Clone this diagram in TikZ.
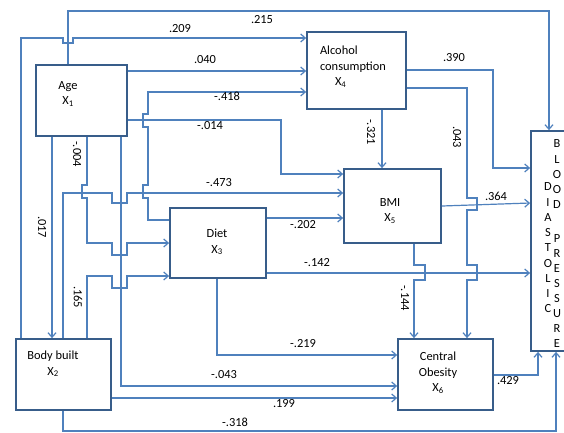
\documentclass[tikz,border=0pt]{standalone}
\usepackage{fontspec}
\setmainfont{Carlito}
\usetikzlibrary{arrows.meta}
\definecolor{lc}{RGB}{79,129,189}
\definecolor{bc}{RGB}{56,93,138}
\begin{document}
\begin{tikzpicture}[x=1pt,y=-1pt,
  box/.style={draw=bc, line width=1.8pt, fill=white, inner sep=0pt},
  conn/.style={draw=lc, line width=1.2pt, -{Straight Barb[length=4.5pt,width=8pt]}},
  lbl/.style={font=\fontsize{12.4}{15.5}\selectfont, inner sep=0pt},
  txt/.style={font=\fontsize{12.4}{15.5}\selectfont, inner sep=0pt, align=center}]
\useasboundingbox (0,0) rectangle (564,432);
\fill[white] (0,0) rectangle (564,432);
% boxes
\node[box, minimum width=91pt, minimum height=71pt] (age) at (81.5,100.5) {};
\node[box, minimum width=99pt, minimum height=77pt] (alc) at (356.5,70.5) {};
\node[box, minimum width=97pt, minimum height=74pt] (bmi) at (392.5,206) {};
\node[box, minimum width=96pt, minimum height=70pt] (diet) at (218,243) {};
\node[box, minimum width=95pt, minimum height=71pt] (body) at (63.5,374.5) {};
\node[box, minimum width=95pt, minimum height=71pt] (co) at (445.5,374.5) {};
\node[box, minimum width=39pt, minimum height=220pt] (bp) at (550.5,241) {};
% box texts
\node[txt] (ageT) at (68,94) {Age\\X\textsubscript{1}};
\node[txt, align=left] (alcT) at (353,67) {Alcohol\\consumption\\\hspace*{15pt}X\textsubscript{4}};
\node[txt] (bmiT) at (390,211) {BMI\\X\textsubscript{5}};
\node[txt] (dietT) at (217,242) {Diet\\X\textsubscript{3}};
\node[txt] (bodyT) at (53,364) {Body built\\X\textsubscript{2}};
\node[txt] (coT) at (438,373) {Central\\Obesity\\X\textsubscript{6}};
\foreach \c [count=\i from 0] in {B,L,O,O,D}
  \node[lbl] (bpa\i) at (557,{144+15.25*\i}) {\c};
\foreach \c [count=\i from 0] in {P,R,E,S,S,U,R,E}
  \node[lbl] (bpb\i) at (557,{239+14.86*\i}) {\c};
\foreach \c [count=\i from 0] in {D,I,A,S,T,O,L,I,C}
  \node[lbl] (bpc\i) at (548,{187+15.25*\i}) {\c};
% connectors
\draw[conn] (age.north -| 68,0) -- (68,11) -- (549,11) -- (bp.north -| 549,0);
\draw[conn] (body.north -| 21,0) -- (21,38) -- (63,38) -- (63,43) -- (73,43) -- (73,38) -- (alc.west |- 0,38);
\draw[conn] (age.east |- 0,71) -- (alc.west |- 0,71);
\draw[conn] (diet.west |- 0,220) -- (148,220) -- (148,198) -- (143,198) -- (143,185) -- (148,185) -- (148,127) -- (143,127) -- (143,114) -- (148,114) -- (148,92) -- (alc.west |- 0,92);
\draw[conn] (age.east |- 0,120) -- (281,120) -- (281,174) -- (bmi.west |- 0,174);
\draw[conn] (body.north -| 63,0) -- (63,193) -- (112,193) -- (112,203) -- (127,203) -- (127,193) -- (bmi.west |- 0,193);
\draw[conn] (age.south -| 87,0) -- (87,185) -- (82,185) -- (82,198) -- (87,198) -- (87,243) -- (112,243) -- (112,255) -- (127,255) -- (127,243) -- (diet.west |- 0,243);
\draw[conn] (body.north -| 87,0) -- (87,276) -- (112,276) -- (112,288) -- (127,288) -- (127,276) -- (diet.west |- 0,276);
\draw[conn] (age.south -| 52,0) -- (body.north -| 52,0);
\draw[conn] (age.south -| 121,0) -- (121,386) -- (co.west |- 0,386);
\draw[conn] (diet.south -| 217,0) -- (217,355) -- (co.west |- 0,355);
\draw[conn] (body.east |- 0,398) -- (co.west |- 0,398);
\draw[conn] (body.south -| 63,0) -- (63,431) -- (556,431) -- (bp.south -| 556,0);
\draw[conn] (alc.east |- 0,70) -- (493,70) -- (493,168) -- (bp.west |- 0,168);
\draw[conn] (alc.east |- 0,88) -- (467,88) -- (467,198) -- (477,198) -- (477,210) -- (467,210) -- (467,265) -- (477,265) -- (477,280) -- (467,280) -- (co.north -| 467,0);
\draw[conn] (alc.south -| 382,0) -- (bmi.north -| 382,0);
\draw[conn] (bmi.east |- 0,206) -- (bp.west |- 0,203);
\draw[conn] (bmi.south -| 414,0) -- (414,265) -- (425,265) -- (425,280) -- (414,280) -- (co.north -| 414,0);
\draw[conn] (diet.east |- 0,273) -- (bp.west |- 0,273);
\draw[conn] (diet.east |- 0,218) -- (bmi.west |- 0,218);
\draw[conn] (co.east |- 0,375) -- (538,375) -- (bp.south -| 538,0);
% coefficient labels
\node[lbl] (l215) at (262,20) {.215};
\node[lbl] (l209) at (180,29) {.209};
\node[lbl] (l040) at (205,60) {.040};
\node[lbl] (l418) at (227,96) {-.418};
\node[lbl] (l014) at (210,126) {-.014};
\node[lbl] (l473) at (219,183) {-.473};
\node[lbl, rotate=-90] (l004) at (77,154) {-.004};
\node[lbl, rotate=-90] (l017) at (42,227) {.017};
\node[lbl, rotate=-90] (l165) at (78,297) {.165};
\node[lbl] (l202) at (303,225) {-.202};
\node[lbl] (l142) at (317,263) {-.142};
\node[lbl, rotate=-90] (l321) at (371,132) {-.321};
\node[lbl, rotate=-90] (l043b) at (457,137) {.043};
\node[lbl] (l390) at (454,58) {.390};
\node[lbl] (l364) at (496,196) {.364};
\node[lbl, rotate=-90] (l144) at (405,298) {-.144};
\node[lbl] (l219) at (303,344) {-.219};
\node[lbl] (l429) at (508,381) {.429};
\node[lbl] (l043) at (224,375) {-.043};
\node[lbl] (l199) at (284,404) {.199};
\node[lbl] (l318) at (235,422) {-.318};
\end{tikzpicture}
\end{document}
